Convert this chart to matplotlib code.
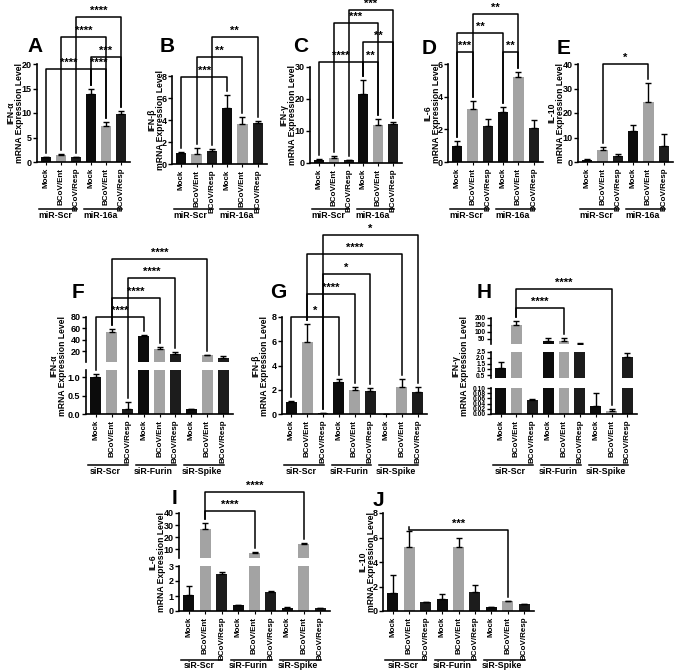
import matplotlib
matplotlib.use("Agg")
import matplotlib.pyplot as plt
from matplotlib.lines import Line2D

plt.rcParams["font.family"] = ["Liberation Sans", "DejaVu Sans"]
plt.rcParams["font.weight"] = "bold"

W, H = 677, 672

CONDS = ["Mock", "BCoV/Ent", "BCoV/Resp"]
MIR_GROUPS = ["miR-Scr", "miR-16a"]
SIR_GROUPS = ["siR-Scr", "siR-Furin", "siR-Spike"]

# --- valores (média, erro superior)
A_val = [1.0, 1.5, 0.95, 13.8, 7.3, 9.8]
A_err = [0.05, 0.05, 0.05, 1.0, 0.8, 0.7]
B_val = [1.0, 0.9, 1.2, 5.1, 3.6, 3.7]
B_err = [0.05, 0.55, 0.2, 1.15, 0.65, 0.25]
C_val = [1.0, 1.6, 0.8, 21.5, 11.9, 12.2]
C_err = [0.3, 0.6, 0.2, 4.5, 1.8, 0.6]
D_val = [1.0, 3.25, 2.2, 3.05, 5.2, 2.1]
D_err = [0.3, 0.5, 0.45, 0.3, 0.3, 0.5]
E_val = [0.8, 5.0, 2.5, 12.7, 24.5, 6.5]
E_err = [0.3, 1.0, 0.6, 2.4, 7.8, 4.8]
F_val = [1.0, 53, 0.15, 46, 24, 16, 0.13, 13, 8]
F_err = [0.1, 6, 0.17, 3, 3, 3, 0.02, 0.5, 3]
G_val = [1.0, 5.9, 0.05, 2.65, 2.0, 1.9, 0.03, 2.2, 1.85]
G_err = [0.05, 1.5, 0.02, 0.2, 0.2, 0.25, 0.01, 0.7, 0.4]
Hg_val = [1.1, 150, 0.055, 35, 35, 15, 0.03, 0.01, 2.1]
Hg_err = [0.5, 30, 0.002, 25, 25, 3, 0.05, 0.01, 0.3]
I_val = [1.1, 27, 2.5, 0.4, 7, 1.28, 0.22, 14.5, 0.17]
I_err = [0.6, 5, 0.1, 0.03, 1, 0.08, 0.02, 0.7, 0.02]
J_val = [1.45, 5.2, 0.7, 0.95, 5.2, 1.55, 0.3, 0.8, 0.55]
J_err = [1.45, 1.35, 0.03, 0.4, 0.75, 0.55, 0.01, 0.05, 0.01]

# comparações (barra i, barra j, rótulo)
A_sig = [(0, 3, "****"), (3, 4, "****"), (3, 5, "***"), (1, 4, "****"), (2, 5, "****")]
B_sig = [(0, 3, "***"), (1, 4, "**"), (2, 5, "**")]
C_sig = [(0, 3, "****"), (3, 4, "**"), (3, 5, "**"), (1, 4, "***"), (2, 5, "***")]
D_sig = [(0, 1, "***"), (3, 4, "**"), (0, 3, "**"), (1, 4, "**")]
E_sig = [(1, 4, "*")]
F_sig = [(0, 3, "****"), (1, 4, "****"), (2, 5, "****"), (1, 7, "****")]
G_sig = [(0, 3, "*"), (1, 4, "****"), (2, 5, "*"), (1, 7, "****"), (2, 8, "*")]
H_sig = [(1, 4, "****"), (1, 7, "****")]
I_sig = [(1, 4, "****"), (1, 7, "****")]
J_sig = [(1, 7, "***")]

COLORS = ["#0c0c0c", "#a3a3a3", "#1c1c1c"]

fig = plt.figure(figsize=(W / 100, H / 100), dpi=100)


def px_axes(x0, y0, x1, y1):
    return fig.add_axes([x0 / W, 1 - y1 / H, (x1 - x0) / W, (y1 - y0) / H])


def fig_line(xs, ys):
    # xs, ys em pixels (origem no topo)
    fig.add_artist(Line2D([x / W for x in xs], [1 - y / H for y in ys],
                          color="black", lw=1.1, transform=fig.transFigure))


def panel(letter, x0, x1, segs, vals, errs, groups, ylabel, sig, levels,
          letter_xy, group_y, ylab_off):
    """segs: lista (y_top, y_bot, ylim, yticks, ticklabels) de cima para baixo."""
    n = len(vals)
    xs = list(range(n))
    axes = []
    for k, (yt, yb, ylim, ticks, tl) in enumerate(segs):
        ax = px_axes(x0, yt, x1, yb)
        cols = [COLORS[i % 3] for i in xs]
        ax.bar(xs, vals, width=0.68, color=cols)
        lo, hi = ylim
        idx = [i for i in xs if lo < vals[i] + errs[i] <= hi * 1.05]
        if idx:
            ax.errorbar(idx, [vals[i] for i in idx],
                        yerr=[[0] * len(idx), [errs[i] for i in idx]],
                        fmt="none", ecolor="black", elinewidth=1, capsize=2,
                        capthick=1)
        ax.set_xlim(-0.6, n - 0.4)
        ax.set_ylim(*ylim)
        ax.set_yticks(ticks)
        ax.set_yticklabels(tl, fontsize=6.5 if len(segs) < 3 else 4.8,
                           fontweight="bold")
        for s in ("top", "right"):
            ax.spines[s].set_visible(False)
        ax.spines["left"].set_linewidth(1.2)
        ax.spines["bottom"].set_linewidth(1.2)
        ax.tick_params(axis="y", length=3, width=1, pad=1)
        ax.patch.set_alpha(0)
        if k < len(segs) - 1:
            ax.spines["bottom"].set_visible(False)
            ax.set_xticks([])
        else:
            ax.set_xticks(xs)
            ax.set_xticklabels([CONDS[i % 3] for i in xs], rotation=90,
                               fontsize=5.8, fontweight="bold")
            ax.tick_params(axis="x", length=2, pad=2)
        axes.append(ax)
    # rótulo do eixo y
    ymid = (segs[0][0] + segs[-1][1]) / 2
    fig.text((x0 - ylab_off) / W, 1 - ymid / H,
             ylabel + "\nmRNA Expression Level", rotation=90, ha="center",
             va="center", fontsize=6.2, fontweight="bold", linespacing=1.0)
    fig.text(letter_xy[0] / W, 1 - letter_xy[1] / H, letter, fontsize=15,
             fontweight="bold", ha="left", va="center")
    # grupos
    bottom_ax = axes[-1]
    for g, name in enumerate(groups):
        a = bottom_ax.transData.transform((3 * g - 0.45, 0))[0]
        b = bottom_ax.transData.transform((3 * g + 2.05, 0))[0]
        fig_line([a, b], [group_y, group_y])
        fig.text((a + b) / 2 / W - 0.004, 1 - (group_y + 6) / H, name,
                 ha="center", va="center", fontsize=6.3, fontweight="bold")

    # colchetes de significância
    def top_px(i):
        v = vals[i] + errs[i]
        ax = axes[-1]
        for a in axes:
            if a.get_ylim()[0] < v:
                ax = a
                break
        lo, hi = ax.get_ylim()
        v = min(v, hi)
        d = ax.transData.transform((i, v))
        return d[0], H - d[1] - 4

    for (i, j, lab), ylev in zip(sig, levels):
        xi, yi = top_px(i)
        xj, yj = top_px(j)
        fig_line([xi, xi, xj, xj], [yi, ylev, ylev, yj])
        fig.text((xi + xj) / 2 / W, 1 - (ylev - 6) / H, lab, ha="center",
                 va="center", fontsize=8, fontweight="bold")
    return axes


def one(yt, yb, top, step):
    t = list(range(0, top + 1, step))
    return [(yt, yb, (0, top), t, [str(v) for v in t])]


# --- linha de cima
panel("A", 37, 130, one(64, 162, 20, 5), A_val, A_err, MIR_GROUPS, "IFN-α",
      A_sig, [69, 69, 57, 37, 17], (27, 47), 209, 22)
panel("B", 172, 267, one(76, 164, 8, 2), B_val, B_err, MIR_GROUPS, "IFN-β",
      B_sig, [77, 57, 37], (160, 47), 209, 16)
panel("C", 310, 402, one(67, 163, 30, 10), C_val, C_err, MIR_GROUPS, "IFN-γ",
      C_sig, [62, 62, 42, 23, 10], (293, 47), 209, 22)
panel("D", 448, 543, one(64, 162, 6, 2), D_val, D_err, MIR_GROUPS, "IL-6",
      D_sig, [52, 52, 33, 14], (422, 48), 209, 16)
panel("E", 578, 673, one(64, 162, 40, 10), E_val, E_err, MIR_GROUPS, "IL-10",
      E_sig, [64], (557, 48), 209, 22)

# --- linha do meio
F_segs = [(317, 362, (1.2, 80), [20, 40, 60, 80], ["20", "40", "60", "80"]),
          (370, 414, (0, 1.2), [0, 0.5, 1.0], ["0.0", "0.5", "1.0"])]
panel("F", 86, 233, F_segs, F_val, F_err, SIR_GROUPS, "IFN-α", F_sig,
      [317, 298, 278, 259], (72, 293), 465, 28)
panel("G", 282, 427, one(317, 414, 8, 2), G_val, G_err, SIR_GROUPS, "IFN-β",
      G_sig, [317, 294, 274, 254, 235], (270, 293), 465, 22)
H_segs = [(318, 344, (14, 200), [50, 100, 150, 200], ["50", "100", "150", "200"]),
          (352, 378, (0.24, 2.5), [0.5, 1.0, 1.5, 2.0, 2.5],
           ["0.5", "1.0", "1.5", "2.0", "2.5"]),
          (388, 414, (0, 0.1), [0, 0.02, 0.04, 0.06, 0.08, 0.10],
           ["0.00", "0.02", "0.04", "0.06", "0.08", "0.10"])]
panel("H", 491, 637, H_segs, Hg_val, Hg_err, SIR_GROUPS, "IFN-γ", H_sig,
      [308, 289], (477, 293), 465, 31)

# --- linha de baixo
I_segs = [(513, 558, (3, 40), [10, 20, 30, 40], ["10", "20", "30", "40"]),
          (566, 611, (0, 3), [0, 1, 2, 3], ["0", "1", "2", "3"])]
panel("I", 179, 330, I_segs, I_val, I_err, SIR_GROUPS, "IL-6", I_sig,
      [511, 492], (172, 498), 660, 22)
panel("J", 383, 534, one(513, 611, 8, 2), J_val, J_err, SIR_GROUPS, "IL-10",
      J_sig, [530], (373, 500), 660, 16)

fig.savefig("out.png", dpi=100)
